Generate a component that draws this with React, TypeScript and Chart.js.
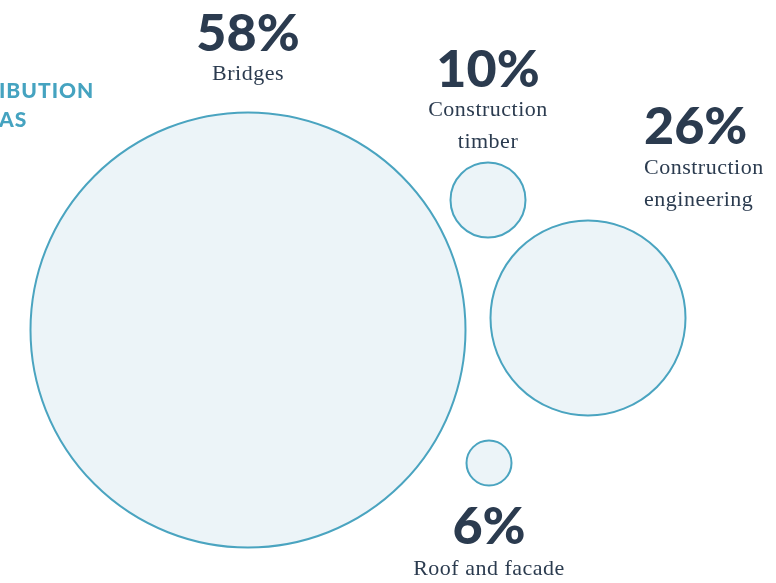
import React, { useEffect, useRef } from "react";
import { Chart, registerables } from "chart.js";

Chart.register(...registerables);

const categories = ["Bridges", "Construction timber", "Construction engineering", "Roof and facade"];
const shares = [58, 10, 26, 6];
const posX = [248, 488, 588, 489];
const posY = [330, 200, 318, 463];
const titleLines = ["IBUTION", "AS"];

const W = 776;
const H = 583;
const RADIUS_PER_PCT = 3.75;

const labelLines: string[][] = [["Bridges"], ["Construction", "timber"], ["Construction", "engineering"], ["Roof and facade"]];

const labelPlugin = {
  id: "bubbleLabels",
  afterDatasetsDraw(chart: any) {
    const ctx = chart.ctx;
    const meta = chart.getDatasetMeta(0);
    ctx.save();
    ctx.fillStyle = "#45a3c0";
    ctx.font = "900 21px Lato";
    ctx.textAlign = "left";
    ctx.textBaseline = "middle";
    try { (ctx as any).letterSpacing = "1px"; } catch (e) {}
    ctx.fillText(titleLines[0], -1, 91);
    ctx.fillText(titleLines[1], -1, 120);
    try { (ctx as any).letterSpacing = "0px"; } catch (e) {}

    meta.data.forEach((el: any, i: number) => {
      const { x, y } = el.getProps(["x", "y"], true);
      const r = el.options.radius;
      const lines = labelLines[i];
      const pct = shares[i] + "%";
      let ax = x, align: CanvasTextAlign = "center", pctY = 0, lineY0 = 0;
      if (i === 0) {
        lineY0 = y - r - 38;
        pctY = lineY0 - 40;
      } else if (i === 1) {
        lineY0 = y - r - 20 - 32;
        pctY = lineY0 - 40;
      } else if (i === 2) {
        ax = x + 56;
        align = "left";
        pctY = y - 191;
        lineY0 = pctY + 41;
      } else {
        pctY = y + r + 42;
        lineY0 = pctY + 42;
      }
      ctx.textAlign = align;
      ctx.textBaseline = "middle";
      ctx.fillStyle = "#2b3b4f";
      ctx.font = "900 52px Lato";
      ctx.fillText(pct, ax, pctY);
      ctx.font = "22px 'Liberation Serif'";
      try { (ctx as any).letterSpacing = "0.5px"; } catch (e) {}
      lines.forEach((t, k) => ctx.fillText(t, ax, lineY0 + k * 32));
      try { (ctx as any).letterSpacing = "0px"; } catch (e) {}
    });
    ctx.restore();
  },
};

export default function App() {
  const ref = useRef<HTMLCanvasElement>(null);
  useEffect(() => {
    document.body.style.margin = "0";
    const chart = new Chart(ref.current!, {
      type: "bubble",
      data: {
        labels: categories,
        datasets: [
          {
            data: shares.map((s, i) => ({ x: posX[i], y: posY[i], r: s * RADIUS_PER_PCT })),
            backgroundColor: "#ecf4f8",
            borderColor: "#4aa4c0",
            borderWidth: 2,
            clip: false as any,
          },
        ],
      },
      options: {
        responsive: false,
        animation: false,
        maintainAspectRatio: false,
        layout: { padding: 0, autoPadding: false } as any,
        plugins: { legend: { display: false }, tooltip: { enabled: false } },
        scales: {
          x: { type: "linear", min: 0, max: W, display: false },
          y: { type: "linear", min: 0, max: H, reverse: true, display: false },
        },
      },
      plugins: [labelPlugin],
    });
    return () => chart.destroy();
  }, []);
  return (
    <div style={{ position: "absolute", left: 0, top: 0, width: W, height: H, background: "#fff" }}>
      <canvas ref={ref} width={W} height={H} style={{ width: W, height: H, display: "block" }} />
    </div>
  );
}
